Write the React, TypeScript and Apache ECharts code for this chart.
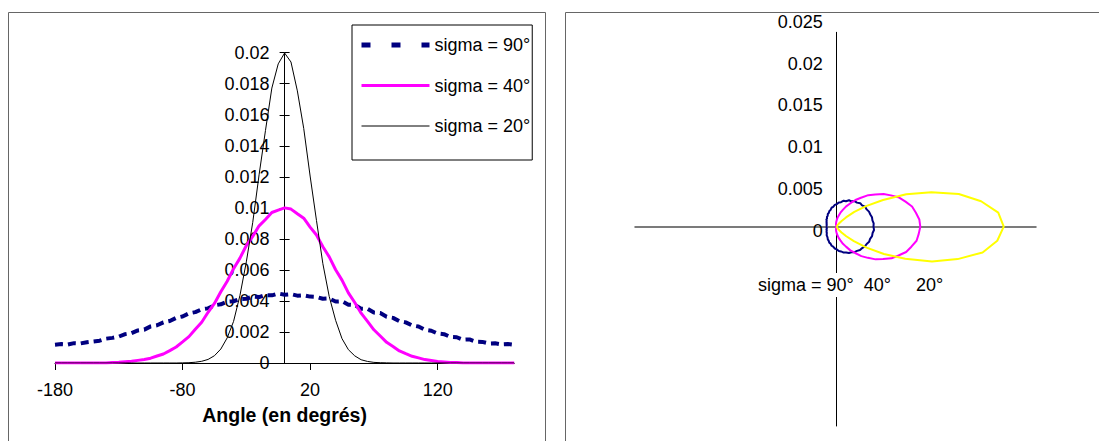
import React, { useEffect, useRef } from "react";
import * as echarts from "echarts";

const ANGLES = [
  -180, -175, -170, -165, -160, -155, -150, -145, -140, -135, -130, -125, -120, -115, -110, -105,
  -100, -95, -90, -85, -80, -75, -70, -65, -60, -55, -50, -45, -40, -35, -30, -25, -20, -15, -10, -5,
  0, 5, 10, 15, 20, 25, 30, 35, 40, 45, 50, 55, 60, 65, 70, 75, 80, 85, 90, 95, 100, 105, 110, 115,
  120, 125, 130, 135, 140, 145, 150, 155, 160, 165, 170, 175, 180,
];

const SIGMA90 = [
  0.00118, 0.00122, 0.00119, 0.00128, 0.00126, 0.00134, 0.00139, 0.00144, 0.00157, 0.00162, 0.0017,
  0.00186, 0.00193, 0.0021, 0.00215, 0.00236, 0.00243, 0.00262, 0.00271, 0.00291, 0.003, 0.0032,
  0.00328, 0.00346, 0.00352, 0.00372, 0.00378, 0.00395, 0.00398, 0.00412, 0.00414, 0.00428, 0.00425,
  0.00438, 0.00436, 0.00448, 0.0044, 0.00444, 0.00434, 0.00437, 0.00428, 0.00426, 0.00414, 0.00416,
  0.00396, 0.00398, 0.00376, 0.00374, 0.0035, 0.00349, 0.00325, 0.00322, 0.00298, 0.00291, 0.0027,
  0.00262, 0.00242, 0.00235, 0.00214, 0.00208, 0.0019, 0.00186, 0.00168, 0.00166, 0.0015, 0.00152,
  0.00137, 0.00136, 0.00126, 0.00127, 0.0012, 0.00122, 0.00117,
];

const SIGMA40 = [
  0, 0, 0, 0, 0, 0, 0, 0, 0, 0.00003, 0.00005, 0.00008, 0.00011, 0.00017, 0.00023, 0.00031, 0.00045,
  0.00058, 0.0008, 0.00103, 0.00136, 0.0017, 0.00218, 0.00263, 0.00327, 0.00384, 0.00459, 0.00527,
  0.00608, 0.00676, 0.00757, 0.00816, 0.00884, 0.00925, 0.0097, 0.00985, 0.01, 0.00992, 0.00962,
  0.00933, 0.00876, 0.00825, 0.00749, 0.00684, 0.00601, 0.00534, 0.00452, 0.0039, 0.00321, 0.00268,
  0.00214, 0.00174, 0.00133, 0.00106, 0.00078, 0.0006, 0.00043, 0.00033, 0.00022, 0.00016, 0.0001,
  0.00007, 0.00004, 0.00003, 0, 0, 0, 0, 0, 0, 0, 0, 0,
];

const SIGMA20 = [
  0, 0, 0, 0, 0, 0, 0, 0, 0, 0, 0, 0, 0, 0, 0, 0, 0, 0, 0, 0, 0.00001, 0.00002, 0.00005, 0.00011,
  0.00023, 0.00047, 0.0009, 0.00162, 0.00268, 0.00436, 0.00652, 0.00905, 0.01213, 0.01498, 0.01772,
  0.01928, 0.01998, 0.0194, 0.01754, 0.01512, 0.01205, 0.00918, 0.0064, 0.00428, 0.00275, 0.00157,
  0.00086, 0.00046, 0.00021, 0.0001, 0.00004, 0.00002, 0.00001, 0, 0, 0, 0, 0, 0, 0, 0, 0, 0, 0, 0,
  0, 0, 0, 0, 0, 0, 0, 0,
];

const SERIES_NAMES = ["sigma = 90°", "sigma = 40°", "sigma = 20°"];
const X_TICKS = [-180, -80, 20, 120];
const POLAR_TEXT = "sigma = 90°  40°     20°";

const FONT = "'Liberation Sans', Arial, sans-serif";

export default function App() {
  const ref = useRef<HTMLDivElement>(null);

  useEffect(() => {
    if (!ref.current) return;
    const chart = echarts.init(ref.current, undefined, { renderer: "svg" });
    const pairs = (vals: number[]) => ANGLES.map((a, i) => [a, vals[i]]);
    const polarPairs = (vals: number[]) => ANGLES.map((a, i) => [vals[i], a]);
    const black = "#000";
    const gridLeft = 55;
    const gridWidth = 459.2;
    const yAxisOffset = -(gridWidth * 180) / 360; // y axis sits at angle 0

    const option: any = {
      animation: false,
      textStyle: { fontFamily: FONT },
      legend: {
        orient: "vertical",
        left: 352,
        top: 25,
        padding: [10, 2, 24, 7],
        itemGap: 20.5,
        itemWidth: 68,
        itemHeight: 14,
        borderColor: "#000",
        borderWidth: 1,
        itemStyle: { opacity: 0 },
        textStyle: { fontSize: 18, color: "#000", fontFamily: FONT, lineHeight: 20 },
        data: [
          { name: SERIES_NAMES[0], lineStyle: { type: [9, 21], width: 5 }, itemStyle: { opacity: 0 } },
          { name: SERIES_NAMES[1], lineStyle: { width: 3 }, itemStyle: { opacity: 0 } },
          { name: SERIES_NAMES[2], lineStyle: { width: 1 }, itemStyle: { opacity: 0 } },
        ],
      },
      grid: [
        { left: gridLeft, top: 52.7, width: gridWidth, height: 310.3 },
        { left: 635, top: 32.3, width: 401, height: 393.7 },
        { left: 836.7, top: 21.7, width: 100, height: 418 },
      ],
      polar: { center: [836.7, 226.7], radius: [0, 209] },
      angleAxis: {
        type: "value",
        min: -180,
        max: 180,
        startAngle: 180,
        clockwise: false,
        show: false,
      },
      radiusAxis: { type: "value", min: 0, max: 0.025, show: false },
      xAxis: [
        {
          gridIndex: 0,
          type: "value",
          min: -180,
          max: 180,
          axisLine: { onZero: false, lineStyle: { color: black, width: 1 } },
          axisTick: { customValues: X_TICKS, length: 7, lineStyle: { color: black } },
          axisLabel: { customValues: X_TICKS, margin: 18, fontSize: 18, color: black, fontFamily: FONT },
          splitLine: { show: false },
          name: "Angle (en degrés)",
          nameLocation: "middle",
          nameGap: 42,
          nameTextStyle: { fontWeight: "bold", fontSize: 19.5, color: black, fontFamily: FONT },
        },
        {
          gridIndex: 1,
          type: "value",
          min: -0.02413,
          max: 0.02384,
          axisLine: { onZero: true, lineStyle: { color: "#505050", width: 1.5 } },
          axisTick: { show: false },
          axisLabel: { show: false },
          splitLine: { show: false },
        },
        { gridIndex: 2, type: "value", min: 0, max: 1, show: false },
      ],
      yAxis: [
        {
          gridIndex: 0,
          type: "value",
          min: 0,
          max: 0.02,
          interval: 0.002,
          position: "left",
          offset: yAxisOffset,
          axisLine: { show: true, onZero: false, lineStyle: { color: black, width: 1 } },
          axisTick: { show: true, length: 5, lineStyle: { color: black } },
          axisLabel: { margin: 15, fontSize: 18, color: black, fontFamily: FONT },
          splitLine: { show: false },
        },
        {
          gridIndex: 0,
          type: "value",
          min: 0,
          max: 0.02,
          interval: 0.002,
          position: "left",
          offset: yAxisOffset,
          axisLine: { show: false, onZero: false },
          axisTick: { show: true, inside: true, length: 5, lineStyle: { color: black } },
          axisLabel: { show: false },
          splitLine: { show: false },
        },
        {
          gridIndex: 1,
          type: "value",
          min: -0.02384,
          max: 0.02325,
          axisLine: { show: true, onZero: true, lineStyle: { color: black, width: 1 } },
          axisTick: { show: false },
          axisLabel: { show: false },
          splitLine: { show: false },
        },
        {
          gridIndex: 2,
          type: "value",
          min: -0.025,
          max: 0.025,
          interval: 0.005,
          axisLine: { show: false, onZero: false },
          axisTick: { show: false },
          axisLabel: {
            margin: 14,
            fontSize: 18,
            color: black,
            fontFamily: FONT,
            formatter: (v: number) => (v < -1e-9 ? "" : String(+v.toFixed(3))),
          },
          splitLine: { show: false },
        },
      ],
      series: [
        {
          name: SERIES_NAMES[0],
          type: "line",
          xAxisIndex: 0,
          yAxisIndex: 0,
          data: pairs(SIGMA90),
          symbol: "none",
          color: "#000080",
          lineStyle: { color: "#000080", width: 4, type: [8, 5] },
          z: 3,
        },
        {
          name: SERIES_NAMES[1],
          type: "line",
          xAxisIndex: 0,
          yAxisIndex: 0,
          data: pairs(SIGMA40),
          symbol: "none",
          color: "#FF00FF",
          lineStyle: { color: "#FF00FF", width: 3 },
          z: 4,
        },
        {
          name: SERIES_NAMES[2],
          type: "line",
          xAxisIndex: 0,
          yAxisIndex: 0,
          data: pairs(SIGMA20),
          symbol: "none",
          color: "#000000",
          lineStyle: { color: "#000000", width: 1 },
          z: 5,
        },
        {
          name: "polar90",
          type: "line",
          coordinateSystem: "polar",
          polarIndex: 0,
          data: polarPairs(SIGMA90),
          symbol: "none",
          lineStyle: { color: "#000080", width: 2 },
          z: 3,
        },
        {
          name: "polar40",
          type: "line",
          coordinateSystem: "polar",
          polarIndex: 0,
          data: polarPairs(SIGMA40),
          symbol: "none",
          lineStyle: { color: "#FF00FF", width: 2 },
          z: 4,
        },
        {
          name: "polar20",
          type: "line",
          coordinateSystem: "polar",
          polarIndex: 0,
          data: polarPairs(SIGMA20),
          symbol: "none",
          lineStyle: { color: "#FFFF00", width: 2 },
          z: 5,
        },
      ],
      graphic: [
        {
          type: "rect",
          silent: true,
          z: -10,
          shape: { x: 8.5, y: 12.5, width: 537, height: 440 },
          style: { fill: "none", stroke: "#666", lineWidth: 1 },
        },
        {
          type: "rect",
          silent: true,
          z: -10,
          shape: { x: 565.5, y: 12.5, width: 600, height: 440 },
          style: { fill: "none", stroke: "#666", lineWidth: 1 },
        },
        {
          type: "text",
          z: 100,
          left: 758,
          top: 273,
          style: {
            text: POLAR_TEXT,
            fontSize: 18,
            fontFamily: FONT,
            fill: "#000",
            backgroundColor: "#fff",
            padding: [3, 0, 3, 0],
          },
        },
      ],
    };

    chart.setOption(option);
    return () => chart.dispose();
  }, []);

  return (
    <div
      ref={ref}
      style={{ position: "absolute", left: 0, top: 0, width: 1099, height: 441, background: "#fff" }}
    />
  );
}
